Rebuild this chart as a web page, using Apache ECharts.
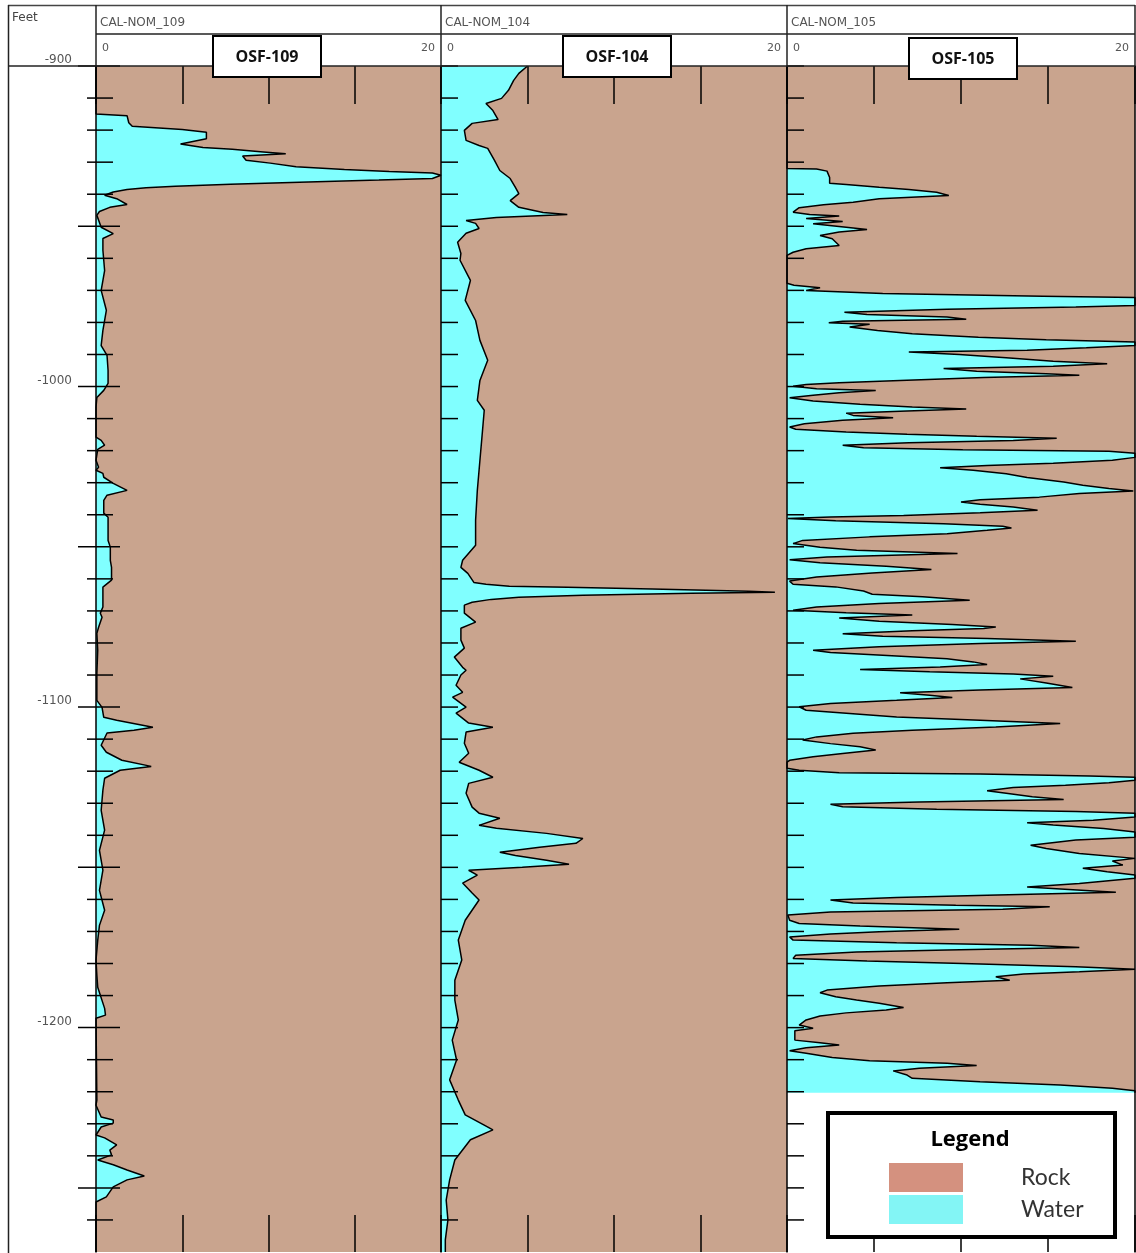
<!DOCTYPE html>
<html><head><meta charset="utf-8">
<script src="https://cdn.jsdelivr.net/npm/echarts@6/dist/echarts.min.js"></script>
<style>html,body{margin:0;padding:0;background:#fff}#c{width:1136px;height:1253px}</style>
</head><body><div id="c"></div>
<script>
// ---------------- DATA ----------------
const trackNames = ['CAL-NOM_109', 'CAL-NOM_104', 'CAL-NOM_105'];
const wellNames = ['OSF-109', 'OSF-104', 'OSF-105'];
const depthRange = [-1270, -900];
const scaleRange = [0, 20];
const depthTicks = [-900,-910,-920,-930,-940,-950,-960,-970,-980,-990,-1000,-1010,-1020,-1030,-1040,-1050,-1060,-1070,-1080,-1090,-1100,-1110,-1120,-1130,-1140,-1150,-1160,-1170,-1180,-1190,-1200,-1210,-1220,-1230,-1240,-1250,-1260];

const depth109 = [-900,-915.0,-915.5,-917.7,-918.8,-919.8,-920.7,-922.7,-924.3,-925.4,
 -926.0,-926.8,-927.4,-928.1,-929.4,-930.3,-931.4,-932.3,-932.9,-933.4,
 -934.1,-935.1,-935.6,-936.2,-936.9,-937.5,-938.0,-938.5,-939.3,-940.3,
 -941.4,-943.2,-944.1,-945.4,-946.6,-950.3,-952.3,-953.8,-957.5,-963.8,
 -970.0,-976.2,-982.5,-987.2,-990.3,-995.0,-999.0,-1001.2,-1003.4,-1006.5,
 -1015.8,-1016.8,-1018.3,-1019.6,-1023.0,-1025.2,-1026.1,-1027.1,-1028.3,-1030.2,
 -1032.4,-1033.9,-1035.5,-1039.5,-1040.8,-1048.0,-1050.1,-1054.2,-1056.4,-1060.4,
 -1062.6,-1068.8,-1070.7,-1072.0,-1075.1,-1077.0,-1082.3,-1089.5,-1097.9,-1100.1,
 -1103.2,-1104.1,-1106.3,-1107.2,-1108.1,-1111.9,-1114.1,-1116.6,-1118.5,-1119.7,
 -1122.2,-1125.9,-1132.2,-1138.4,-1144.7,-1150.9,-1157.2,-1163.4,-1168.1,-1172.8,
 -1179.0,-1183.7,-1187.4,-1194.0,-1196.1,-1197.1,-1222.6,-1224.2,-1227.9,-1228.8,
 -1229.8,-1231.0,-1233.5,-1234.4,-1236.6,-1238.2,-1239.7,-1241.3,-1242.8,-1244.4,
 -1246.3,-1247.5,-1249.7,-1252.8,-1254.4,-1270];
const cal109 = [0,0,1.8,1.9,2.1,5.0,6.4,6.4,4.9,6.2,
 7.9,9.7,11.0,8.5,8.7,10.1,11.6,14.4,17.0,19.5,
 20.0,19.5,16.4,12.3,7.8,4.6,2.9,1.8,1.0,0.5,
 1.2,1.8,0.8,0.2,0.05,0.3,1.0,0.4,0.4,0.5,
 0.3,0.6,0.4,0.3,0.64,0.7,0.7,0.45,0.05,0,
 0,0.3,0.5,0.1,0,0.15,0,0.4,0.45,1.0,
 1.8,0.64,0.45,0.45,0.7,0.7,0.83,0.83,0.9,0.9,
 0.4,0.4,0.25,0.35,0.15,0.05,0.1,0.05,0.05,0.35,
 0.45,1.2,3.3,2.2,0.64,0.3,0.6,1.5,3.2,1.4,
 0.5,0.4,0.3,0.5,0.2,0.4,0.2,0.5,0.2,0.1,
 0,0.05,0.1,0.5,0.55,0,0.05,0,0.3,1.0,
 1.0,0.3,0,0.5,1.2,0.8,0.9,0.1,1.0,1.8,
 2.8,1.8,1.0,0.6,0,0];

const depth104 = [-900.0,-902.3,-904.5,-907.6,-910.1,-911.7,-913.9,-916.7,-917.9,-920.1,
 -923.2,-924.8,-925.7,-929.5,-932.6,-935.1,-937.9,-939.8,-942.0,-944.1,
 -945.7,-946.3,-947.3,-948.2,-949.1,-950.7,-952.2,-955.0,-958.5,-960.6,
 -966.9,-973.1,-979.4,-985.6,-991.8,-998.1,-1004.3,-1007.4,-1013.7,-1023.0,
 -1032.4,-1041.7,-1049.5,-1054.2,-1056.4,-1058.3,-1061.1,-1061.7,-1062.3,-1062.6,
 -1063.2,-1063.9,-1064.2,-1064.5,-1065.1,-1065.7,-1066.4,-1067.3,-1068.2,-1070.7,
 -1073.5,-1075.4,-1079.1,-1081.6,-1084.4,-1087.6,-1088.5,-1090.0,-1093.2,-1095.4,
 -1096.9,-1100.0,-1101.9,-1105.0,-1106.3,-1107.8,-1111.3,-1114.4,-1117.2,-1119.7,
 -1121.9,-1123.8,-1126.9,-1131.2,-1133.1,-1134.7,-1136.9,-1137.8,-1139.4,-1141.0,
 -1142.5,-1143.7,-1145.3,-1146.3,-1147.8,-1149.0,-1150.0,-1150.9,-1152.4,-1154.9,
 -1158.0,-1160.2,-1166.5,-1172.7,-1178.9,-1185.2,-1191.4,-1197.6,-1203.9,-1210.1,
 -1216.3,-1222.6,-1227.2,-1230.4,-1231.9,-1235.0,-1241.3,-1247.5,-1253.8,-1260.0,
 -1266.2,-1270.0];
const cal104 = [5.0,4.5,4.2,3.9,3.5,2.6,3.0,3.3,1.8,1.35,
 1.45,2.2,2.7,3.1,3.4,4.0,4.3,4.5,4.0,4.5,
 5.9,7.3,3.2,1.45,2.0,2.2,1.45,0.96,1.15,1.1,
 1.7,1.4,2.0,2.25,2.7,2.25,2.1,2.5,2.4,2.25,
 2.1,2.0,2.0,1.25,1.15,1.55,1.9,2.6,3.95,7.3,
 12.2,17.8,19.3,14.5,8.2,4.5,2.9,1.8,1.35,1.35,
 2.0,1.15,1.15,1.35,0.77,1.25,1.45,1.15,0.87,1.25,
 0.67,1.45,0.87,1.6,3.0,1.45,1.35,1.6,1.05,2.2,
 3.0,1.6,1.45,1.8,2.2,3.4,2.2,3.2,6.1,8.2,
 7.8,5.7,3.4,4.3,6.1,7.4,4.7,1.6,2.1,1.25,
 1.8,2.2,1.4,1.0,1.2,0.8,0.8,1.0,0.65,0.9,
 0.5,1.0,1.4,2.5,3.0,1.7,0.8,0.5,0.3,0.4,
 0.25,0.25];

// [depth, caliper] pairs for OSF-105
const log105 = [[-900,0],[-932.0,0],[-932.1,1.7],[-932.8,2.3],[-934.8,2.45],[-936.6,2.45],[-937.0,3.4],[-937.8,5.3],[-938.5,7.0],[-939.4,8.6],[-940.4,9.3],[-941.4,5.3],[-942.5,3.8],[-943.3,2.1],[-944.2,0.7],[-945.6,0.35],[-946.3,1.3],[-946.8,3.0],[-947.6,1.1],[-948.5,3.2],[-949.2,1.5],[-950.3,3.4],[-951.0,4.6],[-951.8,3.0],[-952.9,1.9],[-953.9,2.6],[-956.0,3.0],[-957.0,1.1],[-958.1,0.35],[-959.1,0],
 [-967.8,0],[-968.4,0.4],[-969.2,1.9],[-970.0,1.1],[-971.0,5.5],[-971.8,14.7],[-972.2,20],[-974.7,20],[-975.2,16.6],[-975.9,9.2],[-976.8,3.3],[-977.5,4.6],[-978.3,9.2],[-979.0,10.3],[-979.6,3.2],[-980.1,2.4],[-980.6,4.75],[-981.4,3.6],[-982.5,5.2],[-983.5,7.2],[-984.6,11],[-985.4,14.9],[-986.1,20],[-987.2,20],[-987.9,17.2],[-988.7,13.8],[-989.2,7.0],[-990.0,9.9],[-991.0,12.6],[-992.1,15.3],[-992.9,18.4],[-993.7,15.3],[-994.4,9.0],[-995.2,10.9],[-996.0,14.9],[-996.5,16.8],[-997.2,11.3],[-998.1,6.5],[-998.8,3.0],[-999.4,1.1],[-999.9,0.35],
 [-1000.7,1.7],[-1001.2,5.1],[-1001.9,3.0],[-1002.7,1.5],[-1003.5,0.15],[-1004.5,1.5],[-1005.5,4.2],[-1006.4,7.2],[-1007.0,10.3],[-1007.6,6.9],[-1008.3,3.4],[-1009.0,3.8],[-1009.7,6.1],[-1010.5,3.2],[-1011.6,1.0],[-1012.6,0.15],[-1013.3,0.5],[-1014.2,3.4],[-1014.9,6.9],[-1015.5,10.9],[-1016.1,15.5],[-1016.8,13],[-1017.5,7],[-1018.3,3.2],[-1019.1,4.4],[-1019.7,10.1],[-1020.2,18.5],[-1020.8,20],[-1022.1,20],[-1023.0,18.7],[-1023.9,15.3],[-1024.6,11.5],[-1025.3,8.8],[-1026.1,10.7],[-1027.2,12.6],[-1028.4,13.8],[-1029.8,15.9],[-1030.8,17],[-1031.8,18.5],[-1032.6,19.9],[-1033.4,16.8],[-1034.5,14.5],[-1035.3,11.1],[-1036.0,10],[-1036.7,11.1],[-1037.6,13],[-1038.6,14.4],[-1039.4,11.1],[-1040.2,6.7],[-1040.7,2.5],[-1041.2,0.05],[-1041.9,2.8],[-1042.8,9.0],[-1043.6,12.4],[-1044.1,12.9],[-1044.8,11.5],[-1045.9,9.2],[-1046.9,4.75],[-1048.0,0.9],[-1049.0,0.35],[-1050.1,1.9],[-1051.1,4.0],[-1052.1,9.8],[-1053.2,2.3],[-1054.0,0.15],[-1055.0,1.9],[-1056.1,5.7],[-1057.1,8.3],[-1058.2,4.9],[-1059.4,1.7],[-1060.7,0.15],[-1061.7,0.35],[-1062.5,2.8],[-1063.8,4.4],[-1064.8,4.9],[-1065.6,7.8],[-1066.7,10.5],[-1067.7,5.3],[-1068.8,1.7],[-1069.8,0.35],[-1070.6,3.4],[-1071.3,7.2],[-1072.2,3.0],[-1073.2,5.3],[-1074.2,9.5],[-1075.0,12.0],[-1075.5,11.3],[-1076.2,7.2],[-1077.1,3.2],[-1077.9,5.5],[-1078.6,11.5],[-1079.5,16.6],[-1080.2,11.1],[-1081.2,5.3],[-1082.3,1.5],[-1083.0,2.5],[-1083.8,5.5],[-1084.9,9.2],[-1085.9,10.7],[-1086.7,11.5],[-1087.5,8.8],[-1088.3,4.2],[-1089.0,8.2],[-1089.7,13],[-1090.4,15.3],[-1091.2,13.4],[-1092.5,14.9],[-1093.9,16.4],[-1094.7,11.1],[-1095.5,6.5],[-1096.3,8.2],[-1097.0,9.5],[-1097.9,6.3],[-1098.9,2.5],[-1099.9,0.7],
 [-1101.0,1.1],[-1102.0,3.6],[-1103.1,6.3],[-1104.1,11.1],[-1105.1,15.7],[-1106.2,12],[-1107.2,7.2],[-1108.2,3.8],[-1109.3,1.7],[-1110.3,0.9],[-1111.4,2.5],[-1112.4,4.2],[-1113.4,5.1],[-1114.5,3.2],[-1115.5,1.5],[-1116.6,0.15],[-1117.2,0],[-1119.1,0],[-1119.7,0.7],[-1120.5,3.0],[-1120.9,11.1],[-1121.5,17.4],[-1121.9,20],[-1122.8,20],[-1123.6,18.5],[-1124.4,16],[-1125.1,13],[-1126.1,11.5],[-1126.9,12.6],[-1128.0,14.1],[-1128.8,15.9],[-1129.6,7.6],[-1130.3,2.5],[-1131.1,3.2],[-1131.9,8.6],[-1132.6,16.6],[-1133.1,20],[-1134.3,20],[-1135.3,17.6],[-1136.1,13.8],[-1136.8,15.3],[-1137.9,18.2],[-1139.0,20],[-1140.6,20],[-1141.5,16.6],[-1143.1,14],[-1144.1,14.9],[-1145.7,16.8],[-1147.2,20],[-1148.0,18.7],[-1149.3,19.3],[-1150.3,17],[-1151.4,18.4],[-1152.4,20],[-1153.4,20],[-1155.0,16.8],[-1156.1,13.8],[-1157.3,17.4],[-1157.8,18.9],[-1158.7,11.5],[-1159.4,6.3],[-1160.2,2.5],[-1161.1,3.8],[-1161.8,9.7],[-1162.3,15.1],[-1163.1,12.4],[-1163.9,2.5],[-1164.9,0.05],[-1166.5,0.15],[-1167.5,0.7],[-1168.3,4.2],[-1169.3,9.9],[-1170.1,5.3],[-1170.8,2.5],[-1171.7,0.15],[-1172.7,0.35],[-1173.5,6.3],[-1174.3,14],[-1175.0,16.8],[-1175.8,9.2],[-1176.4,4.0],[-1177.4,0.5],[-1178.4,0.35],[-1179.2,4.6],[-1180.0,10.1],[-1181.0,16.6],[-1181.8,20],[-1182.6,16.8],[-1183.3,13.6],[-1184.1,12],[-1185.2,12.8],[-1186.0,9.2],[-1187.0,5.3],[-1188.3,2.3],[-1189.1,1.9],[-1190.4,2.8],[-1191.4,4.0],[-1192.4,5.3],[-1193.7,6.7],[-1194.5,5.7],[-1195.4,3.4],[-1196.4,1.9],[-1197.6,1.1],[-1199.2,0.7],[-1200.2,1.5],[-1201.0,0.45],[-1203.9,0.45],[-1204.7,1.9],[-1205.4,3.0],[-1206.3,1.1],[-1207.2,0.15],[-1208.0,1.1],[-1209.3,2.6],[-1210.3,4.75],[-1211.1,9.2],[-1211.8,10.9],[-1212.7,7.6],[-1213.5,6.1],[-1214.8,6.9],[-1215.8,7.2],[-1216.9,11.1],[-1217.9,15.7],[-1218.9,18.7],[-1219.7,20],[-1220.3,20]];

// ---------------- CHART ----------------
const ROCK = '#c9a48e', WATER = '#80ffff';
const LEG_ROCK = '#d4917f', LEG_WATER = '#83f5f5';
const LABEL_FONT = 'DejaVu Sans';
const logs = [
  depth109.map((d, i) => [d, cal109[i]]),
  depth104.map((d, i) => [d, cal104[i]]),
  log105
];
const gridsPx = [[96, 345], [441, 346], [787, 348]];
const tickCfg = [
  {out: 9, inn: 17, outMajor: 18, innMajor: 24},
  {out: 0, inn: 17, outMajor: 0, innMajor: 17},
  {out: 0, inn: 17, outMajor: 0, innMajor: 17}
];

const grid = gridsPx.map(g => ({left: g[0], top: 66, width: g[1], height: 1186}));
const xAxis = [], yAxis = [], series = [];
gridsPx.forEach((g, i) => {
  xAxis.push({
    gridIndex: i, type: 'value', min: scaleRange[0], max: scaleRange[1], interval: 5, position: 'top', z: 6,
    axisLine: {show: false}, splitLine: {show: false},
    axisTick: {show: true, inside: true, length: 38, lineStyle: {color: '#000', width: 1.5}},
    axisLabel: {show: true, margin: 12, color: '#555', fontSize: 11, fontFamily: LABEL_FONT,
      alignMinLabel: 'left', alignMaxLabel: 'right', padding: [0, 6, 0, 6],
      formatter: v => (v === scaleRange[0] || v === scaleRange[1]) ? String(v) : ''}
  });
  xAxis.push({
    gridIndex: i, type: 'value', min: scaleRange[0], max: scaleRange[1], interval: 5, position: 'bottom', z: 6,
    axisLine: {show: false}, splitLine: {show: false}, axisLabel: {show: false},
    axisTick: {show: true, inside: true, length: 37, lineStyle: {color: '#000', width: 1.5}}
  });
  yAxis.push({
    gridIndex: i, type: 'value', min: depthRange[0], max: depthRange[1], interval: 10, position: 'left', z: 6,
    axisLine: {show: true, onZero: false, lineStyle: {color: '#000', width: 1.5}},
    axisTick: {show: false}, splitLine: {show: false},
    axisLabel: {show: i === 0, margin: 24, verticalAlign: 'bottom', color: '#555', fontSize: 12, fontFamily: LABEL_FONT,
      formatter: v => (v % 100 === 0) ? String(v) : ''}
  });
});
// right border of last track
yAxis.push({gridIndex: 2, type: 'value', min: depthRange[0], max: depthRange[1], position: 'right', z: 6,
  axisLine: {show: true, onZero: false, lineStyle: {color: '#000', width: 1.5}},
  axisTick: {show: false}, axisLabel: {show: false}, splitLine: {show: false}});

logs.forEach((pts, i) => {
  const xi = i * 2, yi = i;
  const first = pts[0][0], last = pts[pts.length - 1][0];
  series.push({
    type: 'custom', name: 'Rock', xAxisIndex: xi, yAxisIndex: yi, z: 2, silent: true, clip: true,
    data: [[scaleRange[1], first]],
    renderItem: (params, api) => {
      const p = [api.coord([scaleRange[1], first])];
      pts.forEach(q => p.push(api.coord([q[1], q[0]])));
      p.push(api.coord([scaleRange[1], last]));
      return {type: 'polygon', shape: {points: p}, style: {fill: ROCK}};
    }
  });
  series.push({
    type: 'custom', name: 'Water', xAxisIndex: xi, yAxisIndex: yi, z: 2, silent: true, clip: true,
    data: [[scaleRange[0], first]],
    renderItem: (params, api) => {
      const p = [api.coord([scaleRange[0], first])];
      pts.forEach(q => p.push(api.coord([q[1], q[0]])));
      p.push(api.coord([scaleRange[0], last]));
      return {type: 'polygon', shape: {points: p}, style: {fill: WATER}};
    }
  });
  series.push({
    type: 'line', name: trackNames[i], xAxisIndex: xi, yAxisIndex: yi, z: 3, silent: true,
    data: pts.map(q => [q[1], q[0]]), symbol: 'none', clip: true,
    lineStyle: {color: '#000', width: 1.5}
  });
  const tc = tickCfg[i];
  series.push({
    type: 'custom', name: 'ticks' + i, xAxisIndex: xi, yAxisIndex: yi, z: 7, silent: true, clip: false,
    data: depthTicks.map(d => [scaleRange[0], d]),
    renderItem: (params, api) => {
      const d = api.value(1);
      const c = api.coord([scaleRange[0], d]);
      const major = d % 50 === 0;
      const o = major ? tc.outMajor : tc.out, n = major ? tc.innMajor : tc.inn;
      return {type: 'line', shape: {x1: c[0] - o, y1: c[1], x2: c[0] + n, y2: c[1]},
        style: {stroke: '#000', lineWidth: 1.5}};
    }
  });
});

// header + decorations
const LC = '#222';
const graphic = [
  {type: 'line', z: 100, shape: {x1: 8, y1: 5.5, x2: 1135, y2: 5.5}, style: {stroke: '#444', lineWidth: 1.5}},
  {type: 'line', z: 100, shape: {x1: 8.5, y1: 5, x2: 8.5, y2: 1253}, style: {stroke: LC, lineWidth: 1.5}},
  {type: 'line', z: 100, shape: {x1: 96, y1: 34, x2: 1135, y2: 34}, style: {stroke: LC, lineWidth: 1.5}},
  {type: 'line', z: 100, shape: {x1: 8, y1: 66, x2: 1135, y2: 66}, style: {stroke: LC, lineWidth: 1.5}},
  {type: 'line', z: 100, shape: {x1: 96, y1: 5, x2: 96, y2: 66}, style: {stroke: LC, lineWidth: 1.5}},
  {type: 'line', z: 100, shape: {x1: 441, y1: 5, x2: 441, y2: 66}, style: {stroke: LC, lineWidth: 1.5}},
  {type: 'line', z: 100, shape: {x1: 787, y1: 5, x2: 787, y2: 66}, style: {stroke: LC, lineWidth: 1.5}},
  {type: 'line', z: 100, shape: {x1: 1135, y1: 5, x2: 1135, y2: 66}, style: {stroke: LC, lineWidth: 1.5}},
  {type: 'text', z: 100, x: 12, y: 18, style: {text: 'Feet', fill: '#444', font: '12px "DejaVu Sans"', verticalAlign: 'middle'}},
];
gridsPx.forEach((g, i) => {
  graphic.push({type: 'text', z: 100, x: g[0] + 4, y: 23, style: {text: trackNames[i], fill: '#555', font: '12px "DejaVu Sans"', verticalAlign: 'middle'}});
});
const boxes = [[213, 36], [563, 36], [909, 38]];
boxes.forEach((b, i) => {
  graphic.push({type: 'rect', z: 100, shape: {x: b[0], y: b[1], width: 108, height: 41},
    style: {fill: '#fff', stroke: '#000', lineWidth: 2}});
  graphic.push({type: 'text', z: 101, x: b[0] + 54, y: b[1] + 21,
    style: {text: wellNames[i], fill: '#111', font: 'bold 16px "Open Sans"', align: 'center', verticalAlign: 'middle'}});
});
graphic.push({type: 'rect', z: 100, shape: {x: 828, y: 1113, width: 287, height: 124},
  style: {fill: '#fff', stroke: '#000', lineWidth: 4}});
graphic.push({type: 'text', z: 101, x: 970, y: 1140,
  style: {text: 'Legend', fill: '#000', font: 'bold 22px "Open Sans"', align: 'center', verticalAlign: 'middle'}});

const chart = echarts.init(document.getElementById('c'), null, {renderer: 'canvas'});
chart.setOption({
  animation: false,
  backgroundColor: '#fff',
  grid, xAxis, yAxis, series, graphic,
  legend: {
    orient: 'vertical', left: 889, top: 1163, padding: 0, itemGap: 3, itemWidth: 74, itemHeight: 29,
    icon: 'rect', selectedMode: false, z: 110,
    data: [{name: 'Rock', itemStyle: {color: LEG_ROCK}}, {name: 'Water', itemStyle: {color: LEG_WATER}}],
    textStyle: {fontFamily: 'Lato', fontSize: 23, color: '#333', lineHeight: 29, padding: [0, 0, 0, 53]}
  }
});
</script></body></html>
